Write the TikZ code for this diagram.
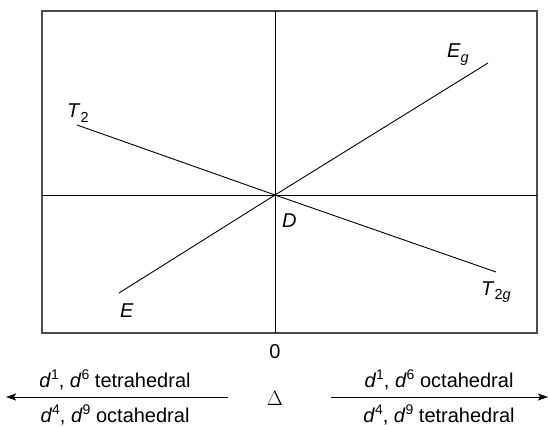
\documentclass[tikz,border=0pt]{standalone}
\usepackage{fontspec}
\setmainfont{Liberation Sans}
\usetikzlibrary{arrows.meta}
\newcommand\sps[1]{\raisebox{0.36em}{\fontsize{14}{14}\selectfont #1}}
\newcommand\sbs[1]{\raisebox{-0.22em}{\fontsize{14.5}{14}\selectfont #1}}
\newcommand\dsup[1]{\textit{d}\sps{#1}}
\begin{document}
\begin{tikzpicture}[x=1pt,y=-1pt,
  lbl/.style={inner sep=0pt,font=\fontsize{20}{22}\selectfont},
  curve/.style={line width=0.9pt,black},
  axis/.style={line width=0.9pt,black},
  frame/.style={line width=1.3pt,black!70},
  arr/.style={line width=0.9pt,-{Stealth[length=10pt,width=7pt,inset=2pt]}}]
\useasboundingbox (0,0) rectangle (548,427);
\coordinate (bl) at (42,333);
\coordinate (tr) at (537,11);
\coordinate (c) at (275,195);
\draw[frame] (bl) rectangle (tr);
\coordinate (top) at (275,11);
\coordinate (bot) at (275,333);
\coordinate (lft) at (42,195);
\coordinate (rgt) at (537,195);
\draw[axis] (top) -- (bot);
\draw[axis] (lft) -- (rgt);
\coordinate (t2) at (77,125);
\coordinate (t2g) at (496,272);
\coordinate (eg) at (488,63);
\coordinate (e) at (119,293);
\draw[curve] (t2) -- (c) -- (t2g);
\draw[curve] (e) -- (c) -- (eg);
\node[lbl,anchor=base west] (lT2) at (67,118) {\textit{T}\sbs{2}};
\node[lbl,anchor=base west] (lEg) at (447,58) {\textit{E}\sbs{\textit{g}}};
\node[lbl,anchor=base west] (lD) at (282,228) {\textit{D}};
\node[lbl,anchor=base west] (lT2g) at (481,295) {\textit{T}\sbs{2\textit{g}}};
\node[lbl,anchor=base west] (lE) at (120,317) {\textit{E}};
\node[lbl,anchor=base] (zero) at (275,358) {0};
\node[lbl,anchor=base] (delta) at (275,405) {$\Delta$};
\coordinate (la0) at (228,397);
\coordinate (la1) at (6,397);
\coordinate (ra0) at (331,397);
\coordinate (ra1) at (548,397);
\draw[arr] (la0) -- (la1);
\draw[arr] (ra0) -- (ra1);
\node[lbl,anchor=base] (lt) at (115,387) {\dsup{1}, \dsup{6} tetrahedral};
\node[lbl,anchor=base] (lb) at (115,422) {\dsup{4}, \dsup{9} octahedral};
\node[lbl,anchor=base] (rt) at (439,387) {\dsup{1}, \dsup{6} octahedral};
\node[lbl,anchor=base] (rb) at (439,422) {\dsup{4}, \dsup{9} tetrahedral};
\end{tikzpicture}
\end{document}
